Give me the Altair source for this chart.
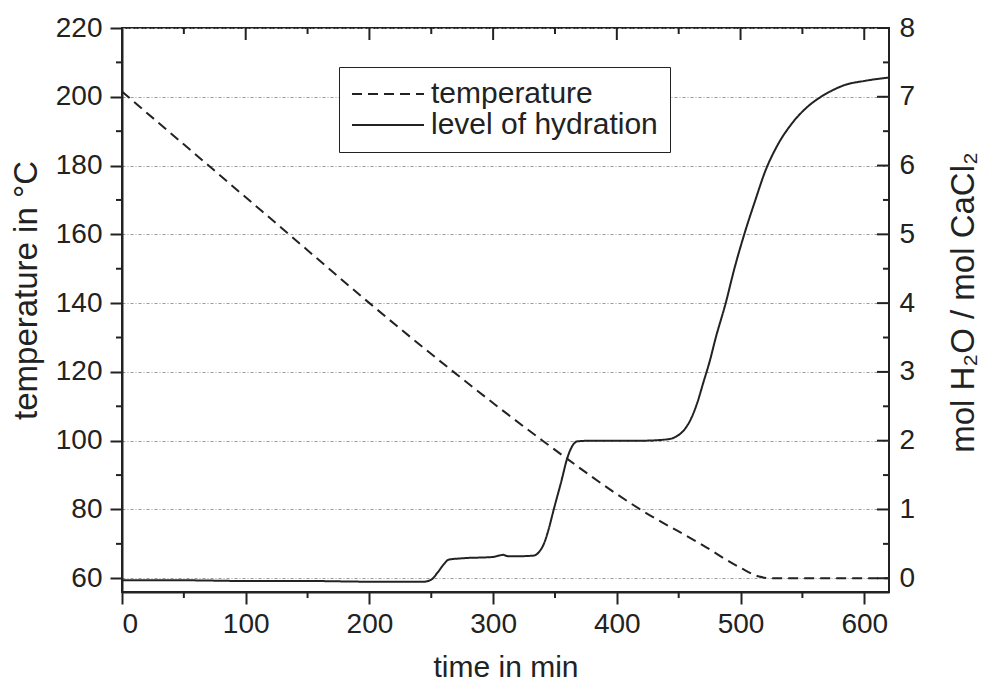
import altair as alt
import pandas as pd

# ---- data ----
temp_time = [0, 70, 135, 200, 268, 340, 419, 470, 500, 515, 525, 540, 580, 620]
temp_value = [201.5, 180, 160, 140, 120, 100, 80, 69.5, 63, 60.5, 60, 60, 60, 60]

hyd_time = [0, 50, 100, 150, 200, 244, 250, 255, 260, 264, 275, 300, 305, 308, 312, 320, 333, 337, 341, 345, 349,
            355, 360, 365, 368, 380, 400, 420, 441, 448, 455, 460, 465, 470, 475, 480, 488, 495, 503, 512, 520,
            530, 541, 552, 565, 575, 584, 600, 620]
hyd_value = [-0.03, -0.03, -0.04, -0.04, -0.05, -0.05, -0.02, 0.08, 0.2, 0.27, 0.29, 0.31, 0.33, 0.34, 0.32, 0.32,
             0.33, 0.38, 0.5, 0.72, 1.0, 1.4, 1.75, 1.95, 1.99, 2.0, 2.0, 2.0, 2.02, 2.06, 2.17, 2.32, 2.55, 2.85,
             3.15, 3.5, 4.0, 4.5, 5.0, 5.5, 5.92, 6.3, 6.6, 6.82, 7.0, 7.1, 7.17, 7.23, 7.28]

series_names = ["temperature", "level of hydration"]

x_major = [0, 100, 200, 300, 400, 500, 600]
x_minor = [50, 150, 250, 350, 450, 550]
temp_major = [60, 80, 100, 120, 140, 160, 180, 200, 220]
temp_minor = [70, 90, 110, 130, 150, 170, 190, 210]
hyd_major = [0, 1, 2, 3, 4, 5, 6, 7, 8]
hyd_minor = [0.5, 1.5, 2.5, 3.5, 4.5, 5.5, 6.5, 7.5]

# ---- layout ----
W, H = 767, 564
FONT = "Liberation Sans"
INK = "#222222"
X_DOMAIN = [0, 620]
T_DOMAIN = [56, 220]
H_DOMAIN = [-0.2, 8]

temp_df = pd.DataFrame({"time": temp_time, "value": temp_value, "series": series_names[0]})
hyd_df = pd.DataFrame({"time": hyd_time, "value": hyd_value, "series": series_names[1]})

xscale = alt.Scale(domain=X_DOMAIN, nice=False, zero=False)
tscale = alt.Scale(domain=T_DOMAIN, nice=False, zero=False)
hscale = alt.Scale(domain=H_DOMAIN, nice=False, zero=False)
dash_scale = alt.Scale(domain=series_names, range=[[10, 6], [1, 0]])

legend = alt.Legend(
    title=None, orient="none", legendX=217, legendY=39, direction="vertical",
    symbolType="stroke", symbolSize=5184, symbolStrokeWidth=2, symbolStrokeColor=INK,
    labelFont=FONT, labelFontSize=30, labelColor=INK, labelOffset=6, labelLimit=500,
    clipHeight=30, strokeColor=INK, fillColor="white", padding=12, rowPadding=1, cornerRadius=0,
)

x_axis = alt.Axis(
    title="time in min", values=x_major, orient="bottom", grid=False,
    tickSize=12, tickWidth=2, tickColor=INK, domainColor=INK, domainWidth=2,
    labelFont=FONT, labelFontSize=28, labelColor=INK, labelPadding=6,
    titleFont=FONT, titleFontSize=30, titleFontWeight="normal", titleColor=INK,
    titleY=84, titleBaseline="alphabetic",
)

t_axis = alt.Axis(
    title="temperature in °C", values=temp_major, orient="left", grid=True,
    gridColor="#9a9a9a", gridDash=[3, 2, 1, 2], gridWidth=1,
    tickSize=12, tickWidth=2, tickColor=INK, domainColor=INK, domainWidth=2,
    labelFont=FONT, labelFontSize=28, labelColor=INK, labelPadding=8,
    titleFont=FONT, titleFontSize=33, titleFontWeight="normal", titleColor=INK,
    titleAngle=270, titleX=-96, titleY=262, titleBaseline="middle", titleAlign="center",
)

h_axis = alt.Axis(
    title="mol H₂O / mol CaCl₂", values=hyd_major, orient="right", grid=False,
    ticks=False, domain=False, format="d",
    labelFont=FONT, labelFontSize=28, labelColor=INK, labelPadding=10,
    titleFont=FONT, titleFontSize=33, titleFontWeight="normal", titleColor=INK,
    titleAngle=270, titleX=74, titleY=274, titleBaseline="middle", titleAlign="center",
)

temp_line = alt.Chart(temp_df).mark_line(color=INK, strokeWidth=2, interpolate="monotone").encode(
    x=alt.X("time:Q", scale=xscale, axis=x_axis),
    y=alt.Y("value:Q", scale=tscale, axis=t_axis),
    strokeDash=alt.StrokeDash("series:N", scale=dash_scale, legend=legend),
)

hyd_line = alt.Chart(hyd_df).mark_line(color=INK, strokeWidth=2, interpolate="monotone").encode(
    x=alt.X("time:Q", scale=xscale, axis=x_axis),
    y=alt.Y("value:Q", scale=hscale, axis=h_axis),
    strokeDash=alt.StrokeDash("series:N", scale=dash_scale, legend=legend),
)

rule_style = dict(color=INK, strokeWidth=2)

# minor ticks (outward) on left and bottom
left_minor = alt.Chart(pd.DataFrame({"v": temp_minor})).mark_rule(**rule_style).encode(
    y=alt.Y("v:Q", scale=tscale, axis=None), x=alt.value(-6), x2=alt.value(0))
bottom_minor = alt.Chart(pd.DataFrame({"v": x_minor})).mark_rule(**rule_style).encode(
    x=alt.X("v:Q", scale=xscale, axis=x_axis), y=alt.value(H), y2=alt.value(H + 6))
# inward ticks on top and right
top_major = alt.Chart(pd.DataFrame({"v": x_major})).mark_rule(**rule_style).encode(
    x=alt.X("v:Q", scale=xscale, axis=x_axis), y=alt.value(0), y2=alt.value(12))
top_minor = alt.Chart(pd.DataFrame({"v": x_minor})).mark_rule(**rule_style).encode(
    x=alt.X("v:Q", scale=xscale, axis=x_axis), y=alt.value(0), y2=alt.value(6))
right_major = alt.Chart(pd.DataFrame({"v": hyd_major})).mark_rule(**rule_style).encode(
    y=alt.Y("v:Q", scale=hscale, axis=None), x=alt.value(W - 12), x2=alt.value(W))
right_minor = alt.Chart(pd.DataFrame({"v": hyd_minor})).mark_rule(**rule_style).encode(
    y=alt.Y("v:Q", scale=hscale, axis=None), x=alt.value(W - 6), x2=alt.value(W))

chart = alt.layer(
    temp_line, hyd_line, left_minor, bottom_minor, top_major, top_minor, right_major, right_minor
).resolve_scale(
    y="independent"
).properties(
    width=W, height=H,
    autosize=alt.AutoSizeParams(type="none"),
    padding={"left": 122, "top": 28, "right": 97, "bottom": 89},
    background="white",
).configure_view(
    stroke=INK, strokeWidth=2
)

chart.save("out.html", embed_options={"renderer": "svg", "actions": False})
